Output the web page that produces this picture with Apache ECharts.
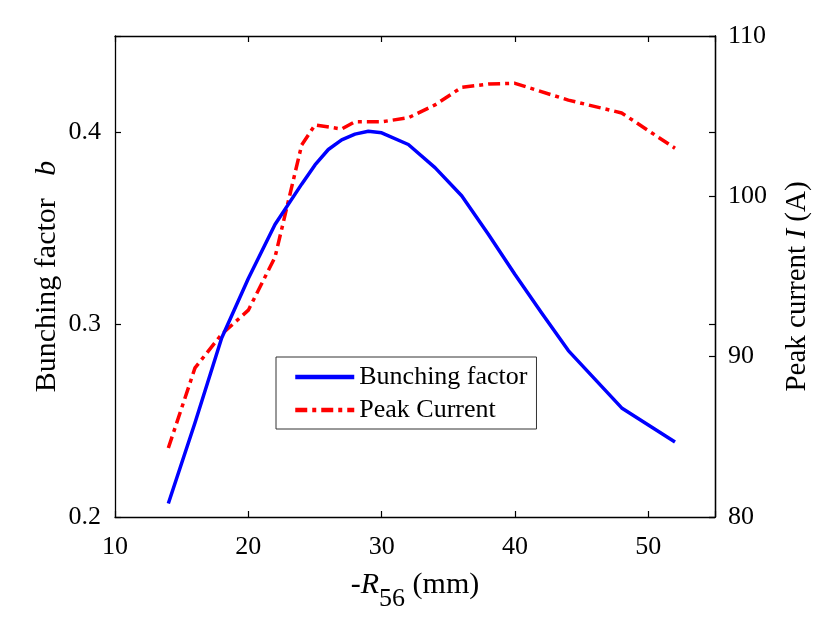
<!DOCTYPE html>
<html>
<head>
<meta charset="utf-8">
<script src="https://cdn.jsdelivr.net/npm/echarts@6/dist/echarts.min.js"></script>
<style>
html,body{margin:0;padding:0;background:#fff;}
#chart{width:823px;height:617px;}
</style>
</head>
<body>
<div id="chart"></div>
<script>
// x values (-R56, mm)
const xBunch = [14,16,18,20,22,24,25,26,27,28,29,30,32,34,36,38,40,42,44,48,52];
const bunching = [0.207,0.249,0.293,0.324,0.352,0.373,0.383,0.391,0.396,0.399,0.4005,0.3997,0.3936,0.3816,0.367,0.347,0.326,0.306,0.2865,0.2567,0.239];
const xPeak = [14,16,18,20,22,24,25,27,28,30,32,34,36,38,40,44,48,52];
const peak = [84.3,89.3,91.4,92.9,96.2,103.2,104.45,104.2,104.65,104.65,104.9,105.7,106.8,107.0,107.05,106.0,105.2,103.0];
const xTicks = [10,20,30,40,50];
const bTicks = [0.2,0.3,0.4];
const iTicks = [80,90,100,110];

const FONT = 'Liberation Serif';
const chart = echarts.init(document.getElementById('chart'));
const axisLine = {show:true, lineStyle:{color:'#000', width:1.3}};
const tick = {show:true, inside:true, length:6, lineStyle:{color:'#000', width:1.2}};
const lbl = {color:'#000', fontFamily:FONT, fontSize:26};

function onList(list, v){ return list.some(t => Math.abs(t - v) < 1e-9); }

chart.setOption({
  animation:false,
  backgroundColor:'#fff',
  grid:{left:115, right:108, top:36, bottom:99, containLabel:false},
  legend:{
    left:276, top:357, orient:'vertical',
    backgroundColor:'#fff', borderColor:'#333', borderWidth:1,
    padding:[7,9,6,17], itemGap:7, itemWidth:59, itemHeight:14,
    itemStyle:{opacity:0},
    lineStyle:{width:4.5},
    textStyle:{color:'#000', fontFamily:FONT, fontSize:26, lineHeight:26},
    data:['Bunching factor','Peak Current']
  },
  xAxis:[{
    type:'value', min:10, max:55, interval:10, position:'bottom',
    axisLine, axisTick:tick, splitLine:{show:false},
    axisLabel:Object.assign({margin:17, formatter:v => onList(xTicks, v) ? String(v) : ''}, lbl),
    name:'{n|-}{i|R}{s|56}{n| (mm)}', nameLocation:'middle', nameGap:53,
    nameTextStyle:{color:'#000', fontFamily:FONT, fontSize:30,
      rich:{
        i:{fontFamily:FONT, fontSize:30, fontStyle:'italic', verticalAlign:'bottom', padding:[0,0,12,0]},
        s:{fontFamily:FONT, fontSize:26, verticalAlign:'bottom'},
        n:{fontFamily:FONT, fontSize:30, verticalAlign:'bottom', padding:[0,0,12,0]}
      }}
  },{
    type:'value', min:10, max:55, interval:10, position:'top',
    axisLine, axisTick:tick, splitLine:{show:false}, axisLabel:{show:false}
  }],
  yAxis:[{
    type:'value', min:0.2, max:0.45, interval:0.1, position:'left',
    axisLine, axisTick:tick, splitLine:{show:false},
    axisLabel:Object.assign({margin:14, formatter:v => onList(bTicks, v) ? v.toFixed(1) : ''}, lbl),
    name:'Bunching factor   {i|b}', nameLocation:'middle', nameGap:53, nameMoveOverlap:false,
    nameTextStyle:{color:'#000', fontFamily:FONT, fontSize:30,
      rich:{i:{fontFamily:FONT, fontSize:30, fontStyle:'italic'}}}
  },{
    type:'value', min:80, max:110, interval:10, position:'right',
    axisLine, axisTick:tick, splitLine:{show:false},
    axisLabel:Object.assign({margin:13, formatter:v => onList(iTicks, v) ? String(v) : ''}, lbl),
    name:'Peak current {i|I} (A)', nameLocation:'middle', nameGap:68,
    nameTextStyle:{color:'#000', fontFamily:FONT, fontSize:29, padding:[0,20,0,0],
      rich:{i:{fontFamily:FONT, fontSize:29, fontStyle:'italic'}}}
  },{
    type:'value', min:0.2, max:0.45, interval:0.1, position:'right',
    axisLine, axisTick:tick, splitLine:{show:false}, axisLabel:{show:false}
  }],
  series:[{
    name:'Bunching factor', type:'line', xAxisIndex:0, yAxisIndex:0,
    symbol:'none', showSymbol:false,
    data:xBunch.map((x,i)=>[x,bunching[i]]),
    lineStyle:{color:'#0000ff', width:3.5, type:'solid', join:'round'},
    itemStyle:{color:'#0000ff'}, z:3
  },{
    name:'Peak Current', type:'line', xAxisIndex:0, yAxisIndex:1,
    symbol:'none', showSymbol:false,
    data:xPeak.map((x,i)=>[x,peak[i]]),
    lineStyle:{color:'#ff0000', width:3.5, type:[12,5,4,5]},
    itemStyle:{color:'#ff0000'}, z:2
  }]
});
</script>
</body>
</html>
